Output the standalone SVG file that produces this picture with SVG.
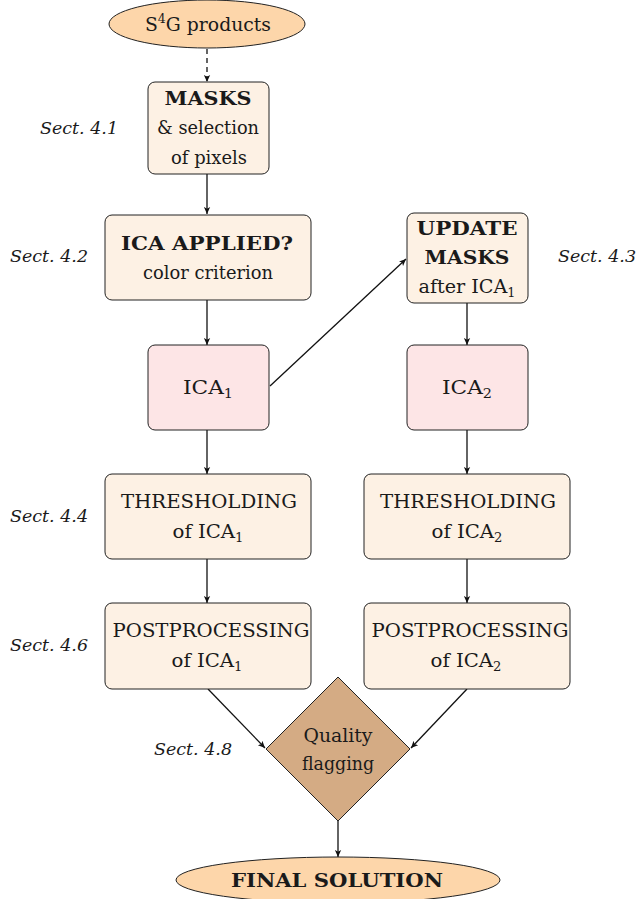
<svg xmlns="http://www.w3.org/2000/svg" width="641" height="899" viewBox="0 0 641 899">
<style>
  .t { font-size: 18px; text-anchor: middle; }
  .b { font-weight: bold; }
  .sect { font-size: 17px; font-style: italic; text-anchor: middle; }
  .box { fill: #fdf1e4; stroke: #222; stroke-width: 1; }
  .ica { fill: #fde5e6; stroke: #222; stroke-width: 1; }
  .ell { fill: #fdd6aa; stroke: #222; stroke-width: 1; }
  .dia { fill: #d4ab84; stroke: #222; stroke-width: 1; }
  .c { stroke: #111; stroke-width: 1.3; fill: none; marker-end: url(#ah); }
  .sub { font-size: 12px; }
</style>
<defs>
  <marker id="ah" viewBox="0 0 10 10" refX="10" refY="5" markerWidth="7" markerHeight="7" markerUnits="userSpaceOnUse" orient="auto">
    <path d="M0,0.5 L10,5 L0,9.5 L2.5,5 Z" fill="#111"/>
  </marker>
</defs>
<rect width="641" height="899" fill="#fff"/>

<g id="connectors">
  <path class="c" d="M207,49 L207,82" stroke-dasharray="5,4"/>
  <path class="c" d="M207,174 L207,214"/>
  <path class="c" d="M207,300 L207,345"/>
  <path class="c" d="M270,386 L406,259"/>
  <path class="c" d="M467,303 L467,345"/>
  <path class="c" d="M207,430 L207,474"/>
  <path class="c" d="M467,430 L467,474"/>
  <path class="c" d="M207,559 L207,603"/>
  <path class="c" d="M467,559 L467,603"/>
  <path class="c" d="M208,689 L265,748"/>
  <path class="c" d="M467,689 L411,748"/>
  <path class="c" d="M338,821 L338,857"/>
</g>

<g font-family="'DejaVu Serif', serif" fill="#1a1a1a">
<g id="s4g">
  <ellipse class="ell" cx="207" cy="24" rx="98" ry="24"/>
  <text class="t" x="208" y="31" textLength="126" lengthAdjust="spacingAndGlyphs">S<tspan class="sub" dy="-8">4</tspan><tspan dy="8">G products</tspan></text>
</g>

<g id="masks">
  <rect class="box" x="148" y="82" width="121" height="92" rx="7"/>
  <text class="t b" x="208" y="105" textLength="87" lengthAdjust="spacingAndGlyphs">MASKS</text>
  <text class="t" x="208" y="134" textLength="102" lengthAdjust="spacingAndGlyphs">&amp; selection</text>
  <text class="t" x="209" y="164" textLength="76" lengthAdjust="spacingAndGlyphs">of pixels</text>
</g>

<g id="icaapplied">
  <rect class="box" x="105" y="215" width="206" height="85" rx="7"/>
  <text class="t b" x="207" y="250" textLength="172" lengthAdjust="spacingAndGlyphs">ICA APPLIED?</text>
  <text class="t" x="208" y="279" textLength="130" lengthAdjust="spacingAndGlyphs">color criterion</text>
</g>

<g id="update">
  <rect class="box" x="407" y="213" width="121" height="90" rx="7"/>
  <text class="t b" x="467" y="235" textLength="101" lengthAdjust="spacingAndGlyphs">UPDATE</text>
  <text class="t b" x="467" y="264" textLength="85" lengthAdjust="spacingAndGlyphs">MASKS</text>
  <text class="t" x="467" y="293" textLength="97" lengthAdjust="spacingAndGlyphs">after ICA<tspan class="sub" dy="4">1</tspan></text>
</g>

<g id="ica1">
  <rect class="ica" x="148" y="345" width="121" height="85" rx="7"/>
  <text class="t" x="208" y="394" textLength="50" lengthAdjust="spacingAndGlyphs">ICA<tspan class="sub" dy="4">1</tspan></text>
</g>

<g id="ica2">
  <rect class="ica" x="407" y="345" width="121" height="85" rx="7"/>
  <text class="t" x="467" y="394" textLength="50" lengthAdjust="spacingAndGlyphs">ICA<tspan class="sub" dy="4">2</tspan></text>
</g>

<g id="thresh1">
  <rect class="box" x="105" y="474" width="206" height="85" rx="7"/>
  <text class="t" x="209" y="508" textLength="176" lengthAdjust="spacingAndGlyphs">THRESHOLDING</text>
  <text class="t" x="208" y="538" textLength="71" lengthAdjust="spacingAndGlyphs">of ICA<tspan class="sub" dy="4">1</tspan></text>
</g>

<g id="thresh2">
  <rect class="box" x="364" y="474" width="206" height="85" rx="7"/>
  <text class="t" x="468" y="508" textLength="176" lengthAdjust="spacingAndGlyphs">THRESHOLDING</text>
  <text class="t" x="467" y="538" textLength="71" lengthAdjust="spacingAndGlyphs">of ICA<tspan class="sub" dy="4">2</tspan></text>
</g>

<g id="post1">
  <rect class="box" x="105" y="603" width="206" height="86" rx="7"/>
  <text class="t" x="211" y="637" textLength="197" lengthAdjust="spacingAndGlyphs">POSTPROCESSING</text>
  <text class="t" x="207" y="667" textLength="71" lengthAdjust="spacingAndGlyphs">of ICA<tspan class="sub" dy="4">1</tspan></text>
</g>

<g id="post2">
  <rect class="box" x="364" y="603" width="206" height="86" rx="7"/>
  <text class="t" x="470" y="637" textLength="197" lengthAdjust="spacingAndGlyphs">POSTPROCESSING</text>
  <text class="t" x="466" y="667" textLength="71" lengthAdjust="spacingAndGlyphs">of ICA<tspan class="sub" dy="4">2</tspan></text>
</g>

<g id="quality">
  <polygon class="dia" points="338,677 410,749 338,821 266,749"/>
  <text class="t" x="338" y="742" textLength="69" lengthAdjust="spacingAndGlyphs">Quality</text>
  <text class="t" x="338" y="770" textLength="72" lengthAdjust="spacingAndGlyphs">flagging</text>
</g>

<g id="final">
  <ellipse class="ell" cx="338" cy="880" rx="162" ry="23"/>
  <text class="t b" x="337" y="887" textLength="212" lengthAdjust="spacingAndGlyphs">FINAL SOLUTION</text>
</g>

<g id="labels">
  <text class="sect" x="79" y="134" textLength="78" lengthAdjust="spacingAndGlyphs">Sect. 4.1</text>
  <text class="sect" x="49" y="262" textLength="78" lengthAdjust="spacingAndGlyphs">Sect. 4.2</text>
  <text class="sect" x="597" y="262" textLength="78" lengthAdjust="spacingAndGlyphs">Sect. 4.3</text>
  <text class="sect" x="49" y="522" textLength="78" lengthAdjust="spacingAndGlyphs">Sect. 4.4</text>
  <text class="sect" x="49" y="651" textLength="78" lengthAdjust="spacingAndGlyphs">Sect. 4.6</text>
  <text class="sect" x="193" y="755" textLength="78" lengthAdjust="spacingAndGlyphs">Sect. 4.8</text>
</g>
</g>
</svg>
